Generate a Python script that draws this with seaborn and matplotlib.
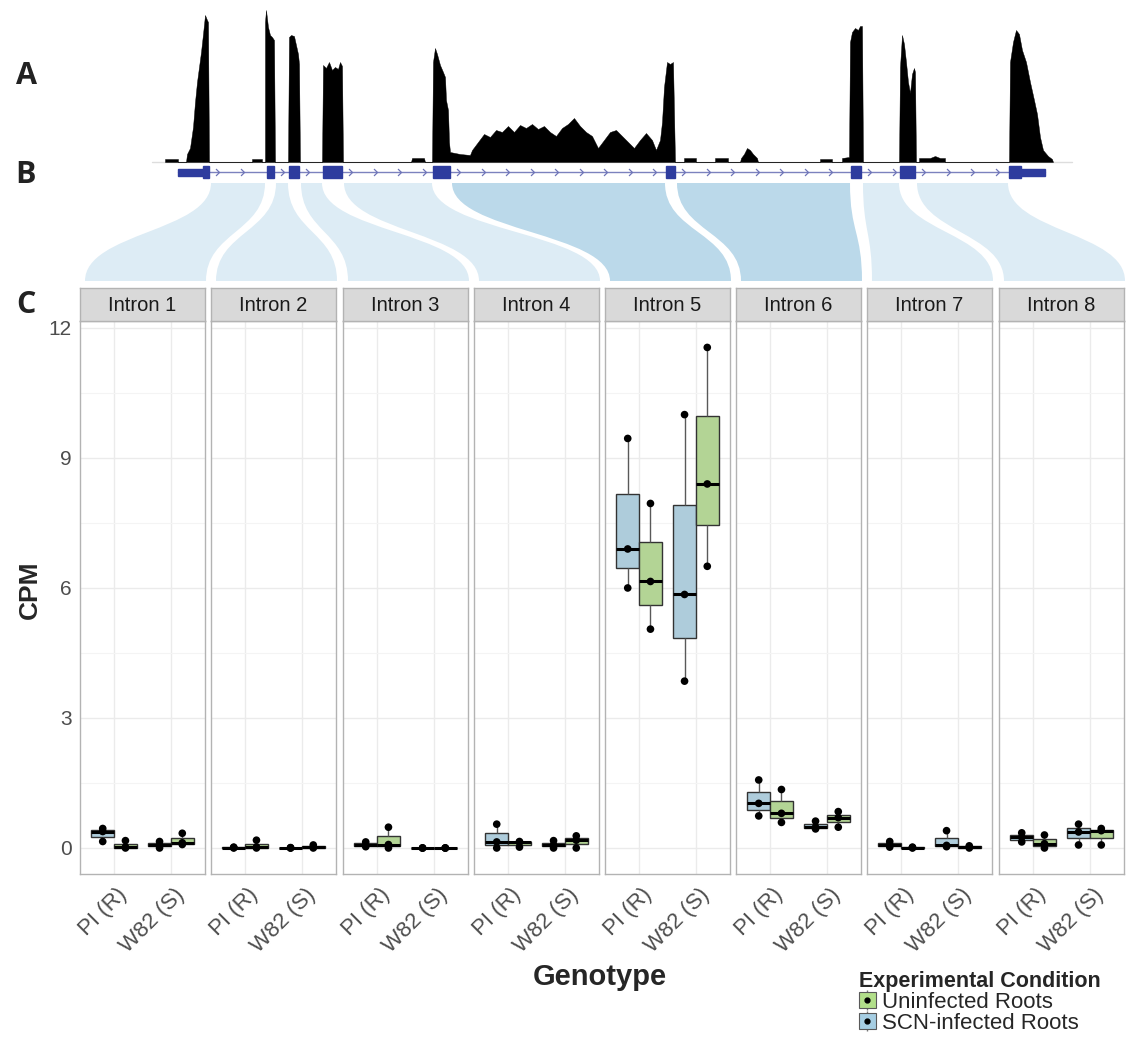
import numpy as np
import pandas as pd
import matplotlib
matplotlib.use('Agg')
import matplotlib.pyplot as plt
import seaborn as sns
from matplotlib.patches import PathPatch, Rectangle, Patch
from matplotlib.path import Path
from matplotlib.lines import Line2D
from matplotlib.legend_handler import HandlerTuple

# ---------------- data ----------------
introns = ['Intron 1', 'Intron 2', 'Intron 3', 'Intron 4',
           'Intron 5', 'Intron 6', 'Intron 7', 'Intron 8']
genotypes = ['PI (R)', 'W82 (S)']
conditions = ['SCN-infected Roots', 'Uninfected Roots']

# CPM, three replicates per intron
pi_scn = [[0.45, 0.38, 0.15], [0.02, 0.01, 0.0], [0.14, 0.07, 0.03], [0.55, 0.14, 0.0],
          [9.45, 6.9, 6.0], [1.57, 1.03, 0.74], [0.15, 0.08, 0.02], [0.35, 0.25, 0.14]]
pi_uninf = [[0.17, 0.02, 0.0], [0.18, 0.02, 0.0], [0.48, 0.08, 0.0], [0.15, 0.13, 0.02],
            [7.95, 6.15, 5.05], [1.35, 0.8, 0.59], [0.02, 0.01, 0.0], [0.3, 0.1, 0.0]]
w82_scn = [[0.15, 0.07, 0.0], [0.01, 0.0, 0.0], [0.0, 0.0, 0.0], [0.17, 0.07, 0.0],
           [10.0, 5.85, 3.85], [0.62, 0.48, 0.44], [0.4, 0.06, 0.03], [0.55, 0.37, 0.07]]
w82_uninf = [[0.34, 0.12, 0.08], [0.07, 0.02, 0.0], [0.0, 0.0, 0.0], [0.28, 0.18, 0.0],
             [11.55, 8.4, 6.5], [0.84, 0.7, 0.48], [0.05, 0.02, 0.0], [0.45, 0.4, 0.07]]

# read coverage track (position along the gene, height of coverage)
cov_x = [165, 165, 178, 178,
         186, 187, 190, 193, 195, 197, 199, 201, 203, 205, 207, 208, 209,
         252, 252, 262, 262,
         265, 265, 266, 268, 270, 272, 274, 275,
         288, 289, 291, 294, 296, 298, 299, 300,
         322, 323, 326, 329, 332, 335, 338, 340, 342, 343,
         411, 412, 424, 425,
         432, 433, 435, 437, 440, 443, 445, 446, 448, 449, 450, 460, 470,
         472, 478, 484, 490, 496, 502, 508, 514, 520, 526, 532, 538, 544, 550, 556, 562,
         568, 574, 580, 586, 592, 598, 604, 610, 616, 622, 628, 634, 640, 646, 652, 656,
         660, 662, 664, 667, 670, 673, 675,
         684, 684, 696, 696, 715, 715, 728, 728,
         740, 741, 744, 747, 750, 753, 757, 758,
         820, 820, 832, 832,
         842, 842, 849, 850, 852, 855, 858, 860, 862, 863,
         899, 900, 902, 904, 906, 908, 910, 912, 914, 915, 916,
         919, 919, 930, 935, 940, 945, 945,
         1009, 1010, 1013, 1016, 1019, 1022, 1026, 1030, 1034, 1037, 1040, 1043, 1048, 1052, 1053]
cov_h = [0, 3, 3, 0,
         0, 8, 14, 35, 60, 80, 95, 110, 128, 147, 142, 140, 0,
         0, 3, 3, 0,
         0, 140, 152, 135, 127, 125, 122, 0,
         0, 125, 127, 126, 117, 108, 98, 0,
         0, 97, 94, 100, 92, 95, 93, 100, 96, 0,
         0, 4, 4, 0,
         0, 100, 114, 108, 97, 90, 85, 62, 52, 20, 10, 8, 7,
         12, 20, 28, 25, 32, 30, 36, 30, 37, 34, 38, 33, 36, 30, 26, 34,
         38, 44, 36, 30, 26, 14, 22, 30, 32, 26, 20, 14, 22, 29, 22, 12,
         22, 40, 75, 100, 98, 100, 0,
         0, 4, 4, 0, 0, 4, 4, 0,
         0, 4, 8, 14, 12, 8, 4, 0,
         0, 3, 3, 0,
         0, 4, 5, 120, 130, 134, 132, 136, 136, 0,
         0, 95, 127, 118, 100, 80, 69, 88, 94, 90, 0,
         0, 4, 4, 6, 4, 4, 0,
         0, 100, 120, 132, 128, 112, 100, 80, 62, 48, 25, 12, 6, 3, 0]

# gene model: coding exons and UTRs (start, end)
exons = [(203, 209), (267, 274), (289, 299), (323, 342), (433, 450),
         (666, 675), (851, 861), (900, 915), (1009, 1021)]
utrs = [(178, 203), (1021, 1045)]

# intron spans on the gene model that lead to each facet
intron_spans = [(211, 265), (276, 288), (301, 322), (344, 432),
                (452, 665), (677, 850), (863, 899), (917, 1008)]

blue = '#A6CEE3'
green = '#B2DF8A'

# ---------------- long table for seaborn ----------------
rows = []
for i, intron in enumerate(introns):
    for vals, g, c in [(pi_scn, 'PI (R)', conditions[0]), (pi_uninf, 'PI (R)', conditions[1]),
                       (w82_scn, 'W82 (S)', conditions[0]), (w82_uninf, 'W82 (S)', conditions[1])]:
        for v in vals[i]:
            rows.append({'intron': intron, 'genotype': g, 'condition': c, 'cpm': v})
df = pd.DataFrame(rows)

sns.set_style('white')
plt.rcParams['font.family'] = ['Liberation Sans', 'DejaVu Sans']

W, H = 1131, 1040
fig = plt.figure(figsize=(W / 100, H / 100), dpi=100)

# overlay axes in pixel units for the coverage track, gene model and ribbons
ax_top = fig.add_axes([0, 0, 1, 1])
ax_top.set_xlim(0, W)
ax_top.set_ylim(H, 0)
ax_top.axis('off')

base_y = 162
ax_top.plot([152, 1072], [base_y, base_y], color='#DDDDDD', lw=1, zorder=1)
ax_top.fill_between(cov_x, base_y, base_y - np.array(cov_h), color='black', lw=0.3, zorder=2)

gene_y = 172
ax_top.plot([178, 1045], [gene_y, gene_y], color='#7C82BE', lw=1, zorder=2)
for a, b in intron_spans:
    xs = np.arange(a + 8, b - 3, 24.5)
    ax_top.plot(xs, [gene_y] * len(xs), ls='none', marker=[(-1, 1), (0, 0), (-1, -1)],
                ms=5, mfc='none', mec='#6E74B8', mew=0.9, zorder=3)
for a, b in exons:
    ax_top.add_patch(Rectangle((a, gene_y - 6), b - a, 12, color='#2E3C9E', zorder=4))
for a, b in utrs:
    ax_top.add_patch(Rectangle((a, gene_y - 3.5), b - a, 7, color='#2E3C9E', zorder=4))

# panel geometry (px)
panel_left = [80, 211, 343, 474, 605, 736, 867, 999]
panel_w = 125
strip_top, strip_bot, panel_bot = 288, 321, 874

band_top, band_bot = 183, 281
band_ym = (band_top + band_bot) / 2
for i, (a, b) in enumerate(intron_spans):
    c, d = panel_left[i] + 5, panel_left[i] + panel_w + 1
    if i == 0:
        c = 85
    verts = [(a, band_top), (a, band_ym), (c, band_ym), (c, band_bot),
             (d, band_bot), (d, band_ym), (b, band_ym), (b, band_top), (a, band_top)]
    codes = [Path.MOVETO, Path.CURVE4, Path.CURVE4, Path.CURVE4,
             Path.LINETO, Path.CURVE4, Path.CURVE4, Path.CURVE4, Path.CLOSEPOLY]
    col = '#BBD9EA' if i in (4, 5) else '#DDECF5'
    ax_top.add_patch(PathPatch(Path(verts, codes), facecolor=col, edgecolor='none', zorder=1))

# ---------------- facet panels ----------------
ylo, yhi = -0.6, 12.16
for i, intron in enumerate(introns):
    L = panel_left[i]
    ax = fig.add_axes([L / W, 1 - panel_bot / H, panel_w / W, (panel_bot - strip_bot) / H])
    sub = df[df['intron'] == intron]
    sns.boxplot(data=sub, x='genotype', y='cpm', hue='condition', order=genotypes,
                hue_order=conditions, palette=[blue, green], width=0.8, linecolor='#333333',
                linewidth=1, showfliers=False, legend=False, ax=ax,
                medianprops=dict(color='black', linewidth=2.2),
                whiskerprops=dict(color='#595959', linewidth=1),
                capprops=dict(visible=False), zorder=3)
    sns.stripplot(data=sub, x='genotype', y='cpm', hue='condition', order=genotypes,
                  hue_order=conditions, palette=['black', 'black'], dodge=True, jitter=False,
                  size=5.5, legend=False, ax=ax, zorder=4)
    ax.set_xlim(-0.6, 1.6)
    ax.set_ylim(ylo, yhi)
    ax.set_yticks([0, 3, 6, 9, 12])
    ax.set_yticks([1.5, 4.5, 7.5, 10.5], minor=True)
    ax.grid(True, which='major', color='#EBEBEB', lw=1)
    ax.grid(True, which='minor', axis='y', color='#F4F4F4', lw=0.8)
    ax.set_axisbelow(True)
    for s in ax.spines.values():
        s.set_color('#B3B3B3')
        s.set_linewidth(1)
    ax.set_xlabel('')
    ax.set_ylabel('')
    ax.tick_params(axis='x', which='major', length=4, color='#B3B3B3', labelsize=16,
                   labelcolor='#4D4D4D', pad=3)
    ax.tick_params(axis='y', which='minor', length=0)
    ax.set_xticks([0, 1])
    ax.set_xticklabels(genotypes, rotation=45, ha='right', va='center', rotation_mode='anchor')
    for t in ax.get_xticklabels():
        t.set_transform(t.get_transform() + matplotlib.transforms.ScaledTranslation(0.1, -0.08, fig.dpi_scale_trans))
    if i == 0:
        ax.tick_params(axis='y', which='major', length=4, color='#B3B3B3', labelsize=15,
                       labelcolor='#4D4D4D', pad=2)
    else:
        ax.tick_params(axis='y', which='major', length=0, labelleft=False)

    # strip
    sax = fig.add_axes([L / W, 1 - strip_bot / H, panel_w / W, (strip_bot - strip_top) / H])
    sax.set_facecolor('#D9D9D9')
    sax.set_xticks([])
    sax.set_yticks([])
    for s in sax.spines.values():
        s.set_color('#B3B3B3')
        s.set_linewidth(1)
    sax.text(0.5, 0.47, intron, ha='center', va='center', fontsize=14.5, color='#1A1A1A',
             transform=sax.transAxes)

# axis titles
fig.text(600 / W, 1 - 977 / H, 'Genotype', ha='center', va='center', fontsize=21,
         fontweight='bold')
fig.text(30 / W, 1 - 590 / H, 'CPM', ha='center', va='center', rotation=90, fontsize=19,
         fontweight='bold')

# panel letters
for lab, y in [('A', 76), ('B', 175), ('C', 305)]:
    fig.text(26 / W, 1 - y / H, lab, ha='center', va='center', fontsize=22,
             fontweight='bold', family=['Open Sans', 'DejaVu Sans'], color='#222222')

# legend
def key(fill):
    return (Line2D([], [], marker='|', ls='none', color='#777777', ms=14, mew=1),
            Patch(facecolor=fill, edgecolor='#595959', lw=0.8),
            Line2D([], [], marker='o', ls='none', color='black', ms=3.5))

leg = fig.legend([key(green), key(blue)], ['Uninfected Roots', 'SCN-infected Roots'],
                 handler_map={tuple: HandlerTuple(ndivide=1)},
                 title='Experimental Condition', loc='upper left',
                 bbox_to_anchor=(859 / W, 1 - 971 / H), frameon=False, fontsize=16,
                 title_fontproperties={'weight': 'bold', 'size': 15.5},
                 handlelength=0.75, handleheight=0.7, handletextpad=0.3,
                 labelspacing=0.0, borderpad=0, borderaxespad=0, alignment='left')

fig.savefig('out.png', dpi=100)
